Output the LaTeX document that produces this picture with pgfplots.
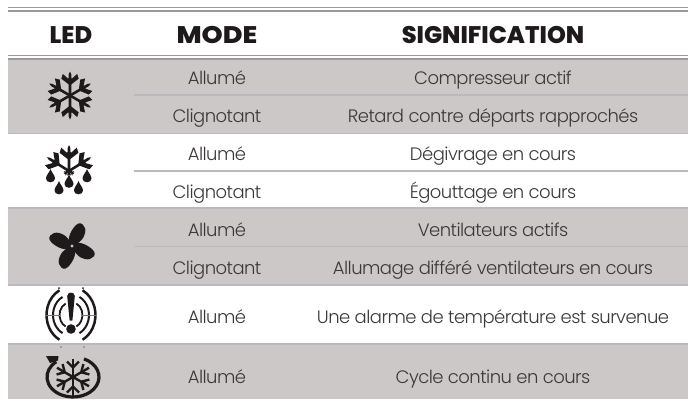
\documentclass[border=0pt]{standalone}
\usepackage{fontspec}
\usepackage{graphicx}
\usepackage{pgfplots}
\pgfplotsset{compat=1.18}
\newfontfamily\bodyf{Poppins Light}
\newfontfamily\headf{Poppins ExtraBold}
\definecolor{band}{HTML}{CCC8C8}
\definecolor{rowrule}{HTML}{B9B9BF}
\definecolor{drule}{HTML}{9A9A9E}
\definecolor{ink}{HTML}{1E1A1B}
\definecolor{txt}{HTML}{3C3838}
\newcommand{\bt}[1]{{\bodyf\fontsize{18}{19}\selectfont\color{txt}\addfontfeatures{LetterSpace=-3}#1}}
\newcommand{\hd}[1]{{\headf\fontsize{24}{25}\selectfont\color{ink}#1}}
\newcommand{\tn}[3]{\node[anchor=base,inner sep=0pt] at (axis cs:#1,#2) {#3};}
% solid snowflake arm: angle, radius
\newcommand{\arm}[2]{\begin{scope}[rotate=#1]
  \fill[ink] (-1.3,0)--(-1.3,#2-3)--(0,#2)--(1.3,#2-3)--(1.3,0)--cycle;
  \fill[ink] (0,#2*0.42)--(-#2*0.36,#2*0.70)--(-#2*0.30,#2*0.90)--(-#2*0.08,#2*0.70)--(0,#2*0.78)--(#2*0.08,#2*0.70)--(#2*0.30,#2*0.90)--(#2*0.36,#2*0.70)--cycle;
\end{scope}}
% teardrop at x,y (tikz units; y up), point upward
\newcommand{\drop}[2]{\fill[ink] (#1,#2+6.5) .. controls (#1+1.5,#2+2.5) and (#1+4.5,#2) .. (#1+4.5,#2-3) .. controls (#1+4.5,#2-8) and (#1-4.5,#2-8) .. (#1-4.5,#2-3) .. controls (#1-4.5,#2) and (#1-1.5,#2+2.5) .. (#1,#2+6.5) -- cycle;}
% fan blade
\newcommand{\blade}[1]{\begin{scope}[rotate=#1]
  \fill[ink] plot[smooth cycle,tension=0.7] coordinates {(-3,2)(-1.5,13)(6.5,22.5)(13,18)(11,8)(3,1.5)};
\end{scope}}
% line flake arm
\newcommand{\larm}[1]{\begin{scope}[rotate=#1]
  \draw[ink,line width=2.4pt] (0,0)--(0,18.5);
  \draw[ink,line width=2.4pt] (-6,15.5)--(0,9.5)--(6,15.5);
\end{scope}}
% alarm arc pair: x radius, y radius, width
\newcommand{\aarc}[3]{%
  \draw[ink,line width=#3pt] (118:#1 and #2) arc[start angle=118,end angle=242,x radius=#1,y radius=#2];
  \draw[ink,line width=#3pt] (62:#1 and #2) arc[start angle=62,end angle=-62,x radius=#1,y radius=#2];}
\begin{document}
\begin{tikzpicture}
\begin{axis}[scale only axis,width=688pt,height=399pt,axis lines=none,
  xmin=0,xmax=688,ymin=0,ymax=399,y dir=reverse,clip=true,
  every axis plot/.append style={line cap=butt}]
% bands
\addplot[fill=band,draw=none] coordinates {(8,59)(688,59)(688,133)(8,133)} --cycle;
\addplot[fill=band,draw=none] coordinates {(8,208)(688,208)(688,285)(8,285)} --cycle;
\addplot[fill=band,draw=none] coordinates {(8,344)(688,344)(688,399)(8,399)} --cycle;
% double rules
\addplot[drule,line width=1.1pt] coordinates {(8,7.5)(688,7.5)};
\addplot[drule,line width=1.1pt] coordinates {(8,11)(688,11)};
\addplot[drule,line width=1.1pt] coordinates {(8,55.5)(688,55.5)};
\addplot[drule,line width=1.1pt] coordinates {(8,59)(688,59)};
% row rules
\addplot[rowrule,line width=1.5pt] coordinates {(8,133.5)(688,133.5)};
\addplot[rowrule,line width=1.5pt] coordinates {(8,208)(688,208)};
\addplot[rowrule,line width=1.5pt] coordinates {(8,285)(688,285)};
\addplot[rowrule,line width=1.5pt] coordinates {(8,344)(688,344)};
\addplot[rowrule,line width=1.5pt] coordinates {(134,95)(688,95)};
\addplot[rowrule,line width=1.5pt] coordinates {(134,171)(688,171)};
\addplot[rowrule,line width=1.5pt] coordinates {(134,246.5)(688,246.5)};
% header
\tn{71}{43}{\hd{LED}}
\tn{217}{43}{\hd{\scalebox{1.12}[1]{MODE}}}
\tn{493}{43}{\hd{SIGNIFICATION}}
% body
\tn{217}{84}{\bt{Allumé}}
\tn{217}{122}{\bt{Clignotant}}
\tn{217}{160}{\bt{Allumé}}
\tn{217}{198}{\bt{Clignotant}}
\tn{217}{236}{\bt{Allumé}}
\tn{217}{274}{\bt{Clignotant}}
\tn{217}{323}{\bt{Allumé}}
\tn{217}{383}{\bt{Allumé}}
\tn{493}{84}{\bt{Compresseur actif}}
\tn{493}{122}{\bt{Retard contre départs rapprochés}}
\tn{493}{160}{\bt{Dégivrage en cours}}
\tn{493}{198}{\bt{Égouttage en cours}}
\tn{493}{236}{\bt{Ventilateurs actifs}}
\tn{493}{274}{\bt{Allumage différé ventilateurs en cours}}
\tn{493}{323}{\bt{Une alarme de température est survenue}}
\tn{493}{383}{\bt{Cycle continu en cours}}
% icon 1
\begin{scope}[shift={(axis cs:70,95.5)},x=1pt,y=1pt]
  \arm{0}{24}\arm{60}{24}\arm{120}{24}\arm{180}{24}\arm{240}{24}\arm{300}{24}
\end{scope}
% icon 2
\begin{scope}[shift={(axis cs:69,171)},x=1pt,y=1pt]
  \arm{0}{26}\arm{58}{26}\arm{-58}{26}
  \arm{180}{5}\arm{120}{6}\arm{-120}{6}
  \drop{-18.5}{-4.5}\drop{18}{-4.5}\drop{0}{-10}\drop{-10}{-16.5}\drop{9.5}{-16.5}
\end{scope}
% icon 3 fan
\begin{scope}[shift={(axis cs:72,246)},x=1pt,y=1pt]
  \blade{0}\blade{90}\blade{180}\blade{270}
  \fill[band] (0,0) circle (1.6);
\end{scope}
% icon 4 alarm
\begin{scope}[shift={(axis cs:71,315)},x=1pt,y=1pt]
  \fill[ink] (-3.8,19) .. controls (-3.8,23.5) and (3.8,23.5) .. (3.8,19) -- (1.4,-5.5) -- (-1.4,-5.5) -- cycle;
  \fill[ink] (0,-14) circle (4.8);
  \aarc{24.5}{28}{2.5}
  \aarc{18}{20.5}{2}
  \aarc{11.5}{13}{1.8}
  \draw[ink!60,line width=0.6pt] (-26,0)--(-11,0);
  \draw[ink!60,line width=0.6pt] (11,0)--(26,0);
  \fill[ink] (-12,27) circle (1);
  \fill[ink] (12,27) circle (1);
\end{scope}
% icon 5
\begin{scope}[shift={(axis cs:73,377)},x=1pt,y=1pt]
  \draw[ink,line width=3.2pt] (65:26 and 20) arc[start angle=65,end angle=-230,x radius=26,y radius=20];
  \fill[ink] (-27,21) -- (-14.5,21) -- (-15,16.5) -- (-23,14) -- cycle;
  \larm{0}\larm{60}\larm{120}\larm{180}\larm{240}\larm{300}
  \fill[ink] (-12,30) circle (0.6);
  \fill[ink] (11,30) circle (0.6);
\end{scope}
\end{axis}
\pgfresetboundingbox
\path[use as bounding box] (0,0) rectangle (688pt,399pt);
\end{tikzpicture}
\end{document}
